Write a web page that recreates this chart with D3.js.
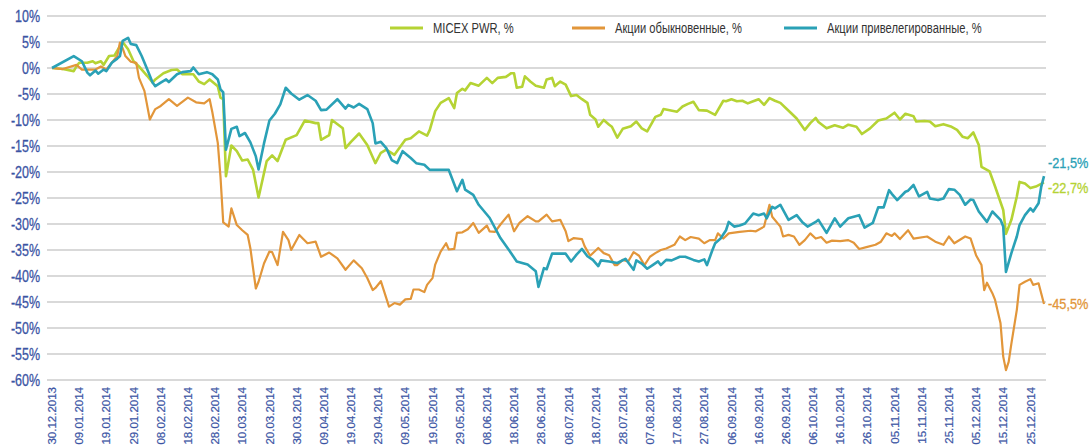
<!DOCTYPE html>
<html>
<head>
<meta charset="utf-8">
<script src="https://cdn.jsdelivr.net/npm/d3@7"></script>
<style>
  html, body { margin: 0; padding: 0; background: #fff; }
  svg { display: block; }
</style>
</head>
<body>
<svg id="chart" width="1092" height="446"></svg>
<script>
// % change since 30.12.2013
const micexPwr = [
	["2013-12-30", 0], ["2014-01-03", -0.2], ["2014-01-07", -0.6], ["2014-01-08", 0.3], ["2014-01-09", 1.0],
	["2014-01-12", 1.0], ["2014-01-14", 1.3], ["2014-01-15", 0.9], ["2014-01-17", 1.3], ["2014-01-18", 0.6],
	["2014-01-20", 2.3], ["2014-01-22", 2.4], ["2014-01-24", 4.2], ["2014-01-25", 5.0], ["2014-01-27", 3.6],
	["2014-01-29", 1.3], ["2014-01-31", 0.3], ["2014-02-03", -1.5], ["2014-02-05", -2.8], ["2014-02-06", -2.2],
	["2014-02-09", -1.0], ["2014-02-12", -0.4], ["2014-02-14", -0.3], ["2014-02-16", -1.2], ["2014-02-20", -1.2],
	["2014-02-22", -2.6], ["2014-02-24", -3.1], ["2014-02-26", -2.2], ["2014-03-01", -3.5], ["2014-03-02", -5.7],
	["2014-03-03", -6.0], ["2014-03-04", -20.8], ["2014-03-06", -14.9], ["2014-03-08", -16.0], ["2014-03-10", -17.8],
	["2014-03-12", -17.6], ["2014-03-14", -19.6], ["2014-03-16", -24.9], ["2014-03-19", -17.9], ["2014-03-21", -16.8],
	["2014-03-23", -17.9], ["2014-03-26", -13.8], ["2014-03-30", -12.9], ["2014-04-02", -10.1], ["2014-04-06", -10.6],
	["2014-04-07", -10.6], ["2014-04-08", -13.8], ["2014-04-11", -12.9], ["2014-04-12", -10.0], ["2014-04-16", -11.6],
	["2014-04-17", -15.4], ["2014-04-19", -14.2], ["2014-04-22", -12.6], ["2014-04-25", -14.8], ["2014-04-28", -18.3],
	["2014-04-30", -16.3], ["2014-05-02", -15.7], ["2014-05-05", -16.7], ["2014-05-09", -13.8], ["2014-05-11", -13.5],
	["2014-05-14", -12.2], ["2014-05-17", -13.0], ["2014-05-18", -11.9], ["2014-05-20", -8.3], ["2014-05-22", -6.7],
	["2014-05-25", -5.8], ["2014-05-27", -7.7], ["2014-05-28", -4.8], ["2014-05-30", -4.0], ["2014-05-31", -4.3],
	["2014-06-02", -2.9], ["2014-06-05", -3.4], ["2014-06-08", -1.9], ["2014-06-10", -2.9], ["2014-06-12", -1.9],
	["2014-06-15", -1.7], ["2014-06-17", -1.0], ["2014-06-18", -1.0], ["2014-06-19", -3.8], ["2014-06-21", -3.6],
	["2014-06-22", -1.6], ["2014-06-24", -2.6], ["2014-06-26", -3.4], ["2014-06-29", -3.8], ["2014-06-30", -2.2],
	["2014-07-02", -1.9], ["2014-07-03", -3.5], ["2014-07-05", -2.6], ["2014-07-07", -3.2], ["2014-07-09", -5.4],
	["2014-07-11", -5.2], ["2014-07-13", -6.0], ["2014-07-15", -6.7], ["2014-07-16", -9.0], ["2014-07-18", -9.9],
	["2014-07-19", -11.3], ["2014-07-21", -10.0], ["2014-07-23", -10.9], ["2014-07-24", -11.3], ["2014-07-26", -13.4],
	["2014-07-28", -11.7], ["2014-07-31", -11.2], ["2014-08-02", -10.3], ["2014-08-04", -11.6], ["2014-08-06", -12.2],
	["2014-08-09", -9.4], ["2014-08-11", -9.0], ["2014-08-12", -7.9], ["2014-08-17", -8.4], ["2014-08-19", -7.4],
	["2014-08-21", -6.9], ["2014-08-23", -6.5], ["2014-08-25", -8.1], ["2014-08-28", -8.2], ["2014-08-31", -9.0],
	["2014-09-03", -6.3], ["2014-09-04", -6.4], ["2014-09-06", -6.0], ["2014-09-08", -6.4], ["2014-09-10", -6.3],
	["2014-09-12", -6.8], ["2014-09-14", -6.4], ["2014-09-16", -6.0], ["2014-09-18", -7.1], ["2014-09-20", -5.8],
	["2014-09-22", -6.3], ["2014-09-24", -6.7], ["2014-09-28", -8.7], ["2014-09-30", -9.7], ["2014-10-03", -11.9],
	["2014-10-05", -10.6], ["2014-10-07", -9.6], ["2014-10-08", -10.4], ["2014-10-11", -11.6], ["2014-10-14", -11.0],
	["2014-10-17", -11.5], ["2014-10-19", -10.9], ["2014-10-22", -11.3], ["2014-10-24", -12.7], ["2014-10-27", -11.6],
	["2014-10-30", -10.1], ["2014-11-02", -9.7], ["2014-11-05", -8.6], ["2014-11-07", -9.9], ["2014-11-09", -8.8],
	["2014-11-12", -9.3], ["2014-11-13", -10.3], ["2014-11-16", -10.2], ["2014-11-18", -10.3], ["2014-11-20", -11.2],
	["2014-11-23", -10.8], ["2014-11-26", -11.3], ["2014-11-28", -11.9], ["2014-11-30", -13.2], ["2014-12-02", -13.5],
	["2014-12-04", -12.4], ["2014-12-06", -14.8], ["2014-12-07", -19.0], ["2014-12-10", -19.9], ["2014-12-12", -22.8],
	["2014-12-15", -27.3], ["2014-12-16", -31.9], ["2014-12-18", -29.2], ["2014-12-20", -24.7], ["2014-12-21", -21.9],
	["2014-12-23", -22.2], ["2014-12-25", -23.1], ["2014-12-27", -22.8], ["2014-12-30", -22.0]
];

const ordinaryShares = [
	["2013-12-30", 0], ["2014-01-03", -0.2], ["2014-01-08", 0.6], ["2014-01-10", -0.3], ["2014-01-15", -0.3],
	["2014-01-17", 0.3], ["2014-01-19", -0.3], ["2014-01-21", 1.0], ["2014-01-23", 2.3], ["2014-01-24", 4.9],
	["2014-01-25", 3.8], ["2014-01-26", 2.3], ["2014-01-28", 1.2], ["2014-01-30", 1.0], ["2014-01-31", -1.9],
	["2014-02-02", -4.4], ["2014-02-04", -9.9], ["2014-02-06", -7.9], ["2014-02-08", -7.3], ["2014-02-11", -6.0],
	["2014-02-14", -7.3], ["2014-02-18", -5.7], ["2014-02-21", -6.6], ["2014-02-24", -6.8], ["2014-02-26", -6.0],
	["2014-02-27", -8.5], ["2014-03-01", -14.4], ["2014-03-02", -21.0], ["2014-03-03", -29.7], ["2014-03-05", -30.5],
	["2014-03-06", -27.0], ["2014-03-08", -30.2], ["2014-03-10", -31.2], ["2014-03-12", -32.1], ["2014-03-13", -34.7],
	["2014-03-15", -42.4], ["2014-03-16", -41.1], ["2014-03-18", -37.6], ["2014-03-20", -35.3], ["2014-03-21", -35.4],
	["2014-03-23", -37.9], ["2014-03-25", -31.5], ["2014-03-27", -33.1], ["2014-03-28", -35.0], ["2014-03-31", -32.1],
	["2014-04-03", -33.7], ["2014-04-06", -33.4], ["2014-04-08", -36.3], ["2014-04-11", -35.5], ["2014-04-14", -36.6],
	["2014-04-17", -38.8], ["2014-04-20", -37.0], ["2014-04-23", -38.5], ["2014-04-25", -40.4], ["2014-04-27", -42.7],
	["2014-04-28", -42.3], ["2014-04-30", -41.0], ["2014-05-03", -45.9], ["2014-05-05", -45.2], ["2014-05-07", -45.5],
	["2014-05-09", -44.5], ["2014-05-11", -44.4], ["2014-05-12", -42.6], ["2014-05-14", -42.6], ["2014-05-16", -43.1],
	["2014-05-17", -41.7], ["2014-05-19", -40.4], ["2014-05-20", -37.8], ["2014-05-22", -35.3], ["2014-05-24", -33.7],
	["2014-05-25", -34.9], ["2014-05-27", -34.8], ["2014-05-28", -31.7], ["2014-05-30", -31.6], ["2014-06-01", -31.0],
	["2014-06-03", -29.8], ["2014-06-05", -31.7], ["2014-06-08", -30.3], ["2014-06-09", -31.4], ["2014-06-11", -31.5],
	["2014-06-13", -30.1], ["2014-06-16", -28.2], ["2014-06-18", -31.4], ["2014-06-20", -29.8], ["2014-06-23", -28.5],
	["2014-06-26", -29.5], ["2014-06-27", -29.5], ["2014-06-30", -28.2], ["2014-07-02", -29.5], ["2014-07-05", -29.2],
	["2014-07-07", -31.4], ["2014-07-08", -33.3], ["2014-07-10", -32.7], ["2014-07-13", -32.9], ["2014-07-14", -34.3],
	["2014-07-16", -36.1], ["2014-07-19", -34.6], ["2014-07-21", -35.6], ["2014-07-23", -36.0], ["2014-07-25", -37.9],
	["2014-07-26", -37.9], ["2014-07-28", -36.9], ["2014-07-30", -37.2], ["2014-08-01", -35.4], ["2014-08-03", -36.1],
	["2014-08-05", -37.9], ["2014-08-07", -36.3], ["2014-08-09", -35.6], ["2014-08-11", -35.0], ["2014-08-13", -34.7],
	["2014-08-16", -34.0], ["2014-08-18", -32.4], ["2014-08-20", -33.1], ["2014-08-22", -32.5], ["2014-08-25", -32.8],
	["2014-08-27", -33.7], ["2014-08-29", -33.1], ["2014-08-31", -33.1], ["2014-09-01", -31.8], ["2014-09-03", -32.8],
	["2014-09-05", -31.8], ["2014-09-09", -31.5], ["2014-09-13", -31.3], ["2014-09-15", -31.4], ["2014-09-18", -30.5],
	["2014-09-20", -26.3], ["2014-09-21", -28.6], ["2014-09-24", -30.5], ["2014-09-25", -32.4], ["2014-09-27", -32.1],
	["2014-09-29", -32.4], ["2014-10-01", -34.0], ["2014-10-03", -33.1], ["2014-10-05", -31.8], ["2014-10-07", -32.8],
	["2014-10-09", -32.5], ["2014-10-11", -33.6], ["2014-10-13", -33.2], ["2014-10-16", -33.3], ["2014-10-19", -33.1],
	["2014-10-21", -33.6], ["2014-10-23", -34.8], ["2014-10-26", -34.4], ["2014-10-29", -34.0], ["2014-10-31", -33.4],
	["2014-11-02", -31.8], ["2014-11-04", -32.3], ["2014-11-05", -31.8], ["2014-11-07", -32.9], ["2014-11-10", -31.2],
	["2014-11-12", -32.8], ["2014-11-17", -32.4], ["2014-11-20", -33.4], ["2014-11-23", -34.0], ["2014-11-25", -32.4],
	["2014-11-27", -33.7], ["2014-12-01", -32.4], ["2014-12-03", -32.8], ["2014-12-05", -36.0], ["2014-12-07", -37.9],
	["2014-12-08", -42.7], ["2014-12-09", -41.3], ["2014-12-11", -43.3], ["2014-12-12", -44.6], ["2014-12-14", -49.1],
	["2014-12-15", -55.5], ["2014-12-16", -58.1], ["2014-12-17", -56.5], ["2014-12-18", -53.0], ["2014-12-20", -46.5],
	["2014-12-21", -41.7], ["2014-12-23", -41.1], ["2014-12-25", -40.6], ["2014-12-26", -41.7], ["2014-12-28", -41.4],
	["2014-12-30", -45.4]
];

const preferredShares = [
	["2013-12-30", 0], ["2014-01-07", 2.3], ["2014-01-10", 1.3], ["2014-01-12", -0.9], ["2014-01-13", -1.4],
	["2014-01-15", -0.5], ["2014-01-16", -1.1], ["2014-01-18", -0.3], ["2014-01-19", -0.6], ["2014-01-21", 1.0],
	["2014-01-23", 1.8], ["2014-01-24", 2.3], ["2014-01-25", 5.2], ["2014-01-27", 5.8], ["2014-01-28", 4.6],
	["2014-01-30", 4.4], ["2014-02-01", 2.3], ["2014-02-03", -0.2], ["2014-02-05", -2.8], ["2014-02-06", -3.5],
	["2014-02-08", -2.8], ["2014-02-10", -2.2], ["2014-02-11", -2.7], ["2014-02-14", -1.2], ["2014-02-16", -0.8],
	["2014-02-19", -0.6], ["2014-02-20", 0.1], ["2014-02-22", -1.2], ["2014-02-25", -0.8], ["2014-02-27", -1.2],
	["2014-03-01", -2.2], ["2014-03-02", -4.1], ["2014-03-03", -4.7], ["2014-03-04", -15.7], ["2014-03-06", -11.7],
	["2014-03-08", -11.3], ["2014-03-09", -13.1], ["2014-03-11", -12.5], ["2014-03-13", -14.3], ["2014-03-15", -17.0],
	["2014-03-16", -19.5], ["2014-03-18", -14.5], ["2014-03-20", -10.1], ["2014-03-22", -8.8], ["2014-03-24", -7.0],
	["2014-03-26", -3.8], ["2014-03-28", -4.9], ["2014-03-31", -6.1], ["2014-04-03", -5.2], ["2014-04-06", -6.3],
	["2014-04-08", -8.1], ["2014-04-10", -8.0], ["2014-04-14", -6.0], ["2014-04-17", -7.8], ["2014-04-18", -7.1],
	["2014-04-20", -7.6], ["2014-04-22", -6.9], ["2014-04-25", -7.9], ["2014-04-27", -10.6], ["2014-04-28", -14.5],
	["2014-04-30", -14.2], ["2014-05-02", -15.4], ["2014-05-04", -17.7], ["2014-05-06", -18.3], ["2014-05-08", -16.0],
	["2014-05-11", -17.3], ["2014-05-13", -18.3], ["2014-05-16", -18.6], ["2014-05-18", -19.6], ["2014-05-25", -19.6],
	["2014-05-28", -23.7], ["2014-05-30", -21.5], ["2014-05-31", -23.4], ["2014-06-03", -24.4], ["2014-06-05", -26.3],
	["2014-06-09", -28.8], ["2014-06-13", -32.7], ["2014-06-16", -34.9], ["2014-06-19", -37.2], ["2014-06-23", -37.8],
	["2014-06-26", -39.1], ["2014-06-27", -42.1], ["2014-06-29", -38.5], ["2014-06-30", -38.7], ["2014-07-02", -35.7],
	["2014-07-07", -35.7], ["2014-07-09", -37.2], ["2014-07-11", -35.9], ["2014-07-13", -34.8], ["2014-07-15", -36.2],
	["2014-07-17", -36.9], ["2014-07-19", -38.1], ["2014-07-20", -37.0], ["2014-07-23", -37.2], ["2014-07-26", -37.5],
	["2014-07-29", -36.7], ["2014-08-01", -38.8], ["2014-08-02", -37.0], ["2014-08-04", -37.6], ["2014-08-06", -38.6],
	["2014-08-08", -37.9], ["2014-08-10", -37.2], ["2014-08-11", -37.9], ["2014-08-13", -36.9], ["2014-08-15", -37.0],
	["2014-08-18", -36.3], ["2014-08-20", -36.3], ["2014-08-23", -36.9], ["2014-08-25", -37.2], ["2014-08-27", -36.8],
	["2014-08-28", -37.9], ["2014-08-30", -35.0], ["2014-08-31", -33.7], ["2014-09-02", -32.8], ["2014-09-04", -31.2],
	["2014-09-05", -29.6], ["2014-09-07", -30.5], ["2014-09-09", -30.3], ["2014-09-11", -29.9], ["2014-09-14", -28.0],
	["2014-09-16", -28.3], ["2014-09-18", -28.0], ["2014-09-19", -28.9], ["2014-09-21", -26.7], ["2014-09-22", -27.0],
	["2014-09-24", -26.3], ["2014-09-27", -29.2], ["2014-09-30", -28.3], ["2014-10-02", -29.6], ["2014-10-04", -30.5],
	["2014-10-07", -29.6], ["2014-10-08", -29.2], ["2014-10-11", -31.7], ["2014-10-14", -28.9], ["2014-10-16", -30.5],
	["2014-10-19", -28.9], ["2014-10-23", -28.3], ["2014-10-25", -30.7], ["2014-10-28", -29.8], ["2014-10-30", -26.8],
	["2014-11-01", -26.8], ["2014-11-03", -23.5], ["2014-11-04", -24.2], ["2014-11-06", -25.4], ["2014-11-09", -23.8],
	["2014-11-10", -23.6], ["2014-11-12", -22.5], ["2014-11-14", -24.7], ["2014-11-17", -23.8], ["2014-11-18", -25.1],
	["2014-11-21", -25.4], ["2014-11-23", -25.1], ["2014-11-25", -23.3], ["2014-11-27", -23.4], ["2014-11-29", -24.4],
	["2014-12-01", -26.3], ["2014-12-03", -25.3], ["2014-12-04", -25.4], ["2014-12-06", -27.6], ["2014-12-09", -29.6],
	["2014-12-11", -27.6], ["2014-12-14", -29.2], ["2014-12-15", -30.5], ["2014-12-16", -39.2], ["2014-12-18", -35.6],
	["2014-12-20", -32.4], ["2014-12-21", -30.2], ["2014-12-23", -28.3], ["2014-12-25", -27.0], ["2014-12-26", -27.6],
	["2014-12-28", -26.0], ["2014-12-29", -22.8], ["2014-12-30", -20.8]
];

const seriesNames = ["MICEX PWR, %", "Акции обыкновенные, %", "Акции привелегированные, %"];
const seriesColors = ["#b5d334", "#e2963a", "#2aa1b6"];
const endLabels = ["-22,7%", "-45,5%", "-21,5%"];

const xTickLabels = [
	"30.12.2013", "09.01.2014", "19.01.2014", "29.01.2014", "08.02.2014", "18.02.2014", "28.02.2014",
	"10.03.2014", "20.03.2014", "30.03.2014", "09.04.2014", "19.04.2014", "29.04.2014", "09.05.2014",
	"19.05.2014", "29.05.2014", "08.06.2014", "18.06.2014", "28.06.2014", "08.07.2014", "18.07.2014",
	"28.07.2014", "07.08.2014", "17.08.2014", "27.08.2014", "06.09.2014", "16.09.2014", "26.09.2014",
	"06.10.2014", "16.10.2014", "26.10.2014", "05.11.2014", "15.11.2014", "25.11.2014", "05.12.2014",
	"15.12.2014", "25.12.2014"
];
const yTicks = [10, 5, 0, -5, -10, -15, -20, -25, -30, -35, -40, -45, -50, -55, -60];

// layout
const gridLeft = 47, gridRight = 1046;
const axisColor = "#3b54a4";
const font = "'Liberation Sans', Arial, sans-serif";

var parseDate = d3.timeParse("%Y-%m-%d");
var parseTick = d3.timeParse("%d.%m.%Y");

var svg = d3.select("#chart");

var x = d3.scaleTime()
	.domain([parseDate("2013-12-30"), parseDate("2014-12-30")])
	.range([52, 1044]);

var y = d3.scaleLinear()
	.domain([-60, 10])
	.range([380, 16]);

// horizontal grid
svg.append("g")
	.selectAll("line")
	.data(yTicks)
	.enter()
	.append("line")
	.attr("x1", gridLeft)
	.attr("x2", gridRight)
	.attr("y1", d => y(d))
	.attr("y2", d => y(d))
	.attr("stroke", "#d9d9d9")
	.attr("stroke-width", 1.8);

// y labels (narrow font, so squeeze horizontally)
svg.append("g")
	.selectAll("text")
	.data(yTicks)
	.enter()
	.append("text")
	.attr("transform", d => "translate(40," + y(d) + ") scale(0.78,1)")
	.attr("dy", "0.36em")
	.attr("text-anchor", "end")
	.attr("font-family", font)
	.attr("font-size", 16)
	.attr("fill", axisColor)
	.attr("stroke", axisColor)
	.attr("stroke-width", 0.3)
	.text(d => d + "%");

// x labels, rotated; kept short enough to fit above the bottom edge
svg.append("g")
	.selectAll("text")
	.data(xTickLabels)
	.enter()
	.append("text")
	.attr("transform", d => "translate(" + x(parseTick(d)) + ",387) rotate(-90)")
	.attr("dy", "0.36em")
	.attr("text-anchor", "end")
	.attr("font-family", font)
	.attr("font-size", 11.5)
	.attr("fill", axisColor)
	.attr("stroke", axisColor)
	.attr("stroke-width", 0.2)
	.text(d => d);

// lines
var line = d3.line()
	.x(d => x(parseDate(d[0])))
	.y(d => y(d[1]));

var allSeries = [micexPwr, ordinaryShares, preferredShares];
var widths = [2.6, 2.2, 2.6];

svg.append("g")
	.selectAll("path")
	.data(allSeries)
	.enter()
	.append("path")
	.attr("d", d => line(d))
	.attr("fill", "none")
	.attr("stroke", (d, i) => seriesColors[i])
	.attr("stroke-width", (d, i) => widths[i])
	.attr("stroke-linejoin", "round");

// end labels
var endDy = [5, 0, -13];
svg.append("g")
	.selectAll("text")
	.data(allSeries)
	.enter()
	.append("text")
	.attr("transform", (d, i) => {
		var last = d[d.length - 1];
		return "translate(1048," + (y(last[1]) + endDy[i]) + ") scale(0.88,1)";
	})
	.attr("dy", "0.36em")
	.attr("font-family", font)
	.attr("font-size", 14.5)
	.attr("fill", (d, i) => seriesColors[i])
	.attr("stroke", (d, i) => seriesColors[i])
	.attr("stroke-width", 0.3)
	.text((d, i) => endLabels[i]);

// legend
var legendX = [390, 572, 784];
var legend = svg.append("g")
	.selectAll("g")
	.data(seriesNames)
	.enter()
	.append("g")
	.attr("transform", (d, i) => "translate(" + legendX[i] + ",28)");

legend.append("line")
	.attr("x1", 0)
	.attr("x2", 33)
	.attr("stroke", (d, i) => seriesColors[i])
	.attr("stroke-width", 3);

legend.append("text")
	.attr("transform", "translate(43,0) scale(0.77,1)")
	.attr("dy", "0.36em")
	.attr("font-family", font)
	.attr("font-size", 14.5)
	.attr("fill", "#333")
	.text(d => d);
</script>
</body>
</html>
